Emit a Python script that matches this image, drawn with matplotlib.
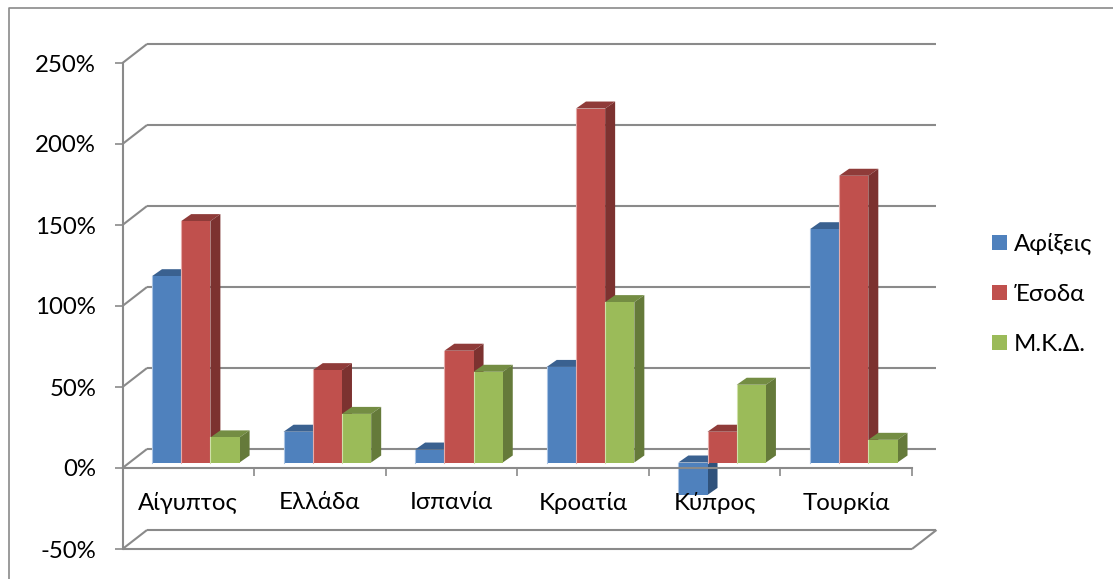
import matplotlib
matplotlib.use('Agg')
import matplotlib.pyplot as plt
from matplotlib.patches import Patch, Polygon
from matplotlib.lines import Line2D

plt.rcParams['font.family'] = ['Lato', 'Noto Sans', 'DejaVu Sans']

countries = ['Αίγυπτος', 'Ελλάδα', 'Ισπανία', 'Κροατία', 'Κύπρος', 'Τουρκία']
series_names = ['Αφίξεις', 'Έσοδα', 'Μ.Κ.Δ.']
arrivals = [115, 19, 8, 59, -20, 144]
revenue = [149, 57, 69, 218.5, 19, 177]
gdp = [15.5, 30, 56, 99, 48, 14]
y_ticks = [-50, 0, 50, 100, 150, 200, 250]

W, H = 1113, 579
LEFT, RIGHT = 122.5, 912.0
TOP, BOTTOM = 63.0, 549.0
FONT = 17.3
px_x = 6 / (RIGHT - LEFT)      # category units per pixel
px_y = 300 / (BOTTOM - TOP)    # percent per pixel

# how far the back wall and the bars sit behind the front plane
wall_dx, wall_dy = 24.5 * px_x, 19 * px_y
shift_dx, shift_dy = 7.5 * px_x, 5.5 * px_y
depth_dx, depth_dy = 10 * px_x, 7 * px_y
bar_w = 29.2 * px_x

GREY = '#8a8a8a'
colors = [('#4f81bd', '#3a6190', '#30527b'),
          ('#c0504d', '#8f3b39', '#7c3230'),
          ('#9bbb59', '#748d43', '#657a3a')]
edge_light = ['#a9c3e3', '#e6acaa', '#cfe0a8']

fig = plt.figure(figsize=(W / 100, H / 100), dpi=100)
ax = fig.add_axes([LEFT / W, 1 - BOTTOM / H, (RIGHT - LEFT) / W, (BOTTOM - TOP) / H])
ax.set_xlim(0, 6)
ax.set_ylim(-50, 250)
ax.patch.set_visible(False)

# outer chart frame
fig.add_artist(Line2D([8.5 / W, 8.5 / W, 1], [0, 1 - 7.5 / H, 1 - 7.5 / H], color=GREY, lw=1.2))


def wall_line(xs, ys):
    ax.plot(xs, ys, color=GREY, lw=1.5, zorder=0.5, clip_on=False, solid_capstyle='butt')


# back wall gridlines and their diagonals back from the y axis
for v in y_ticks:
    wall_line([wall_dx, 6 + wall_dx], [v + wall_dy, v + wall_dy])
    wall_line([0, wall_dx], [v, v + wall_dy])
wall_line([6, 6 + wall_dx], [-50, -50 + wall_dy])
wall_line([0, 6], [-50, -50])


def draw_bar(x0, val, shades, light, z):
    x1 = x0 + bar_w
    base = shift_dy
    top = val + shift_dy
    hi = max(base, top)
    lo = min(base, top)
    front, upper, side = shades
    ax.add_patch(Polygon([(x0, hi), (x0 + depth_dx, hi + depth_dy), (x1 + depth_dx, hi + depth_dy), (x1, hi)],
                         fc=upper, ec='none', zorder=z, clip_on=False))
    ax.add_patch(Polygon([(x1, lo), (x1 + depth_dx, lo + depth_dy), (x1 + depth_dx, hi + depth_dy), (x1, hi)],
                         fc=side, ec='none', zorder=z, clip_on=False))
    ax.add_patch(Polygon([(x0, lo), (x1, lo), (x1, hi), (x0, hi)],
                         fc=front, ec='none', zorder=z, clip_on=False))
    ax.plot([x0, x0], [lo, hi], color=light, lw=0.8, zorder=z, clip_on=False)


for i in range(len(countries)):
    for j, vals in enumerate([arrivals, revenue, gdp]):
        x0 = i + 0.5 + (j - 1.5) * bar_w + shift_dx
        draw_bar(x0, vals[i], colors[j], edge_light[j], 1 + i * 0.1 + j * 0.01)

# axes: y axis on the left, category axis running through zero
for name in ['top', 'right']:
    ax.spines[name].set_visible(False)
ax.spines['bottom'].set_position(('data', 0))
for name in ['left', 'bottom']:
    ax.spines[name].set_color(GREY)
    ax.spines[name].set_linewidth(1.5)

ax.set_yticks(y_ticks)
ax.set_yticklabels([f'{v}%' for v in y_ticks])
ax.tick_params(axis='y', length=6, width=1.2, color=GREY, labelsize=FONT, pad=13, labelcolor='black')

ax.set_xticks(range(1, 7))
ax.set_xticklabels([])
ax.tick_params(axis='x', which='major', length=6, width=1.2, color=GREY)
ax.set_xticks([i + 0.5 for i in range(6)], minor=True)
ax.set_xticklabels(countries, minor=True)
ax.tick_params(axis='x', which='minor', length=0, labelsize=FONT, pad=17, labelcolor='black')

handles = [Patch(fc=c[0], ec='none') for c in colors]
fig.legend(handles, series_names, loc='center left', bbox_to_anchor=(992 / W, 1 - 294 / H),
           frameon=False, fontsize=FONT, handlelength=0.62, handleheight=0.62,
           handletextpad=0.3, labelspacing=1.2, borderpad=0, borderaxespad=0)

fig.savefig('out.png', dpi=100)
